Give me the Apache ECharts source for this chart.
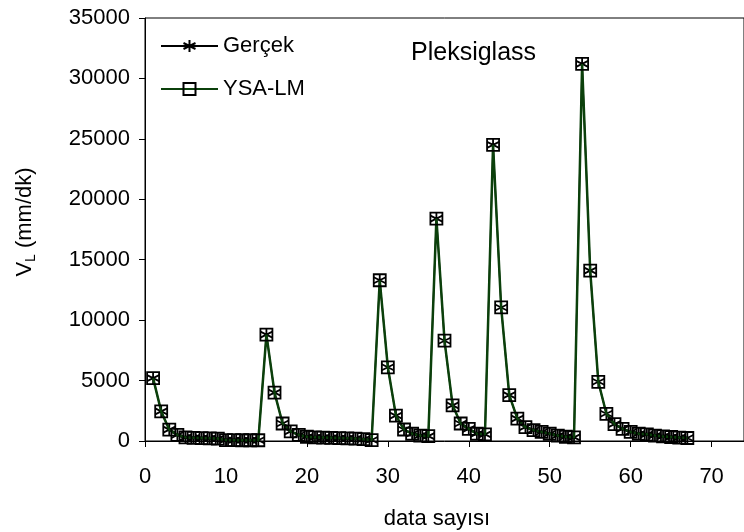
<!DOCTYPE html>
<html>
<head>
<meta charset="utf-8">
<script src="https://cdn.jsdelivr.net/npm/echarts@6/dist/echarts.min.js"></script>
<style>
html,body{margin:0;padding:0;background:#fff;}
#c{width:744px;height:532px;}
</style>
</head>
<body>
<div id="c"></div>
<script>
var xValues = [];
for (var i = 1; i <= 67; i++) xValues.push(i);

var gercek = [5200,2450,940,500,300,260,240,220,200,80,
  70,60,60,60,8800,4000,1450,800,500,350,
  300,280,260,240,220,200,150,80,13300,6100,
  2100,950,600,450,400,18400,8300,2950,1450,1000,
  600,550,24500,11050,3800,1850,1150,900,750,600,
  450,350,300,31200,14100,4900,2250,1400,1000,750,
  600,550,450,380,330,280,250];

var ysaLM = [5200,2450,940,500,300,260,240,220,200,80,
  70,60,60,60,8800,4000,1450,800,500,350,
  300,280,260,240,220,200,150,80,13300,6100,
  2100,950,600,450,400,18400,8300,2950,1450,1000,
  600,550,24500,11050,3800,1850,1150,900,750,600,
  450,350,300,31200,14100,4900,2250,1400,1000,750,
  600,550,450,380,330,280,250];

var xTicks = [0,10,20,30,40,50,60,70];
var yTicks = [0,5000,10000,15000,20000,25000,30000,35000];

function pairs(xs, ys){ return xs.map(function(x,i){ return [x, ys[i]]; }); }

var FONT = '"Liberation Sans", Arial, sans-serif';
var asterisk = 'path://M5,0L5,10M0.7,2.5L9.3,7.5M0.7,7.5L9.3,2.5';

var chart = echarts.init(document.getElementById('c'), null, {renderer:'canvas'});
chart.setOption({
  animation: false,
  backgroundColor: '#fff',
  grid: {left: 145, top: 18, bottom: 91, right: -3, show: true, borderColor: '#000', borderWidth: 1},
  legend: {
    orient: 'vertical', left: 160, top: 35, padding: 0, itemWidth: 57, itemHeight: 15, itemGap: 21,
    textStyle: {fontFamily: FONT, fontSize: 22, color: '#000'},
    data: ['Gerçek', 'YSA-LM']
  },
  graphic: [
    {type: 'text', x: 411, y: 41, style: {text: 'Pleksiglass', font: '25px ' + FONT, fill: '#000'}},
    {type: 'text', x: 25, y: 222, rotation: Math.PI/2,
      style: {text: '{v|V}{s|L}{v| (mm/dk)}', align: 'center', verticalAlign: 'middle',
        rich: {v: {fontFamily: FONT, fontSize: 22, color: '#000'},
               s: {fontFamily: FONT, fontSize: 14, color: '#000', padding: [12,0,0,0]}}}},
    {type: 'text', x: 437, y: 519, style: {text: 'data sayısı', font: '22px ' + FONT, fill: '#000', align: 'center', verticalAlign: 'middle'}}
  ],
  xAxis: {
    type: 'value', min: 0, max: 74, interval: 10,
    axisLine: {onZero: false, lineStyle: {color: '#000', width: 1}},
    axisTick: {show: true, inside: false, length: 6, lineStyle: {color: '#000'},
      customValues: xTicks},
    axisLabel: {margin: 25, fontFamily: FONT, fontSize: 22, color: '#000',
      customValues: xTicks,
      formatter: function(v){ return xTicks.indexOf(v) >= 0 ? String(v) : ''; }},
    splitLine: {show: false}
  },
  yAxis: {
    type: 'value', min: 0, max: 35000, interval: 5000,
    axisLine: {show: true, lineStyle: {color: '#000', width: 1}},
    axisTick: {show: true, inside: false, length: 6, lineStyle: {color: '#000'}},
    axisLabel: {margin: 15, fontFamily: FONT, fontSize: 22, color: '#000',
      formatter: function(v){ return yTicks.indexOf(v) >= 0 ? String(v) : ''; }},
    splitLine: {show: false}
  },
  series: [
    {
      name: 'Gerçek', type: 'line', data: pairs(xValues, gercek),
      symbol: asterisk, symbolSize: 12, showAllSymbol: true,
      lineStyle: {color: '#000', width: 1.5},
      itemStyle: {color: 'rgba(0,0,0,0)', borderColor: '#000', borderWidth: 1.8},
      z: 2
    },
    {
      name: 'YSA-LM', type: 'line', data: pairs(xValues, ysaLM),
      symbol: 'rect', symbolSize: 12, showAllSymbol: true,
      lineStyle: {color: '#0b400b', width: 2.5},
      itemStyle: {color: 'rgba(0,0,0,0)', borderColor: '#000', borderWidth: 1.8},
      z: 3
    }
  ]
});
</script>
</body>
</html>
